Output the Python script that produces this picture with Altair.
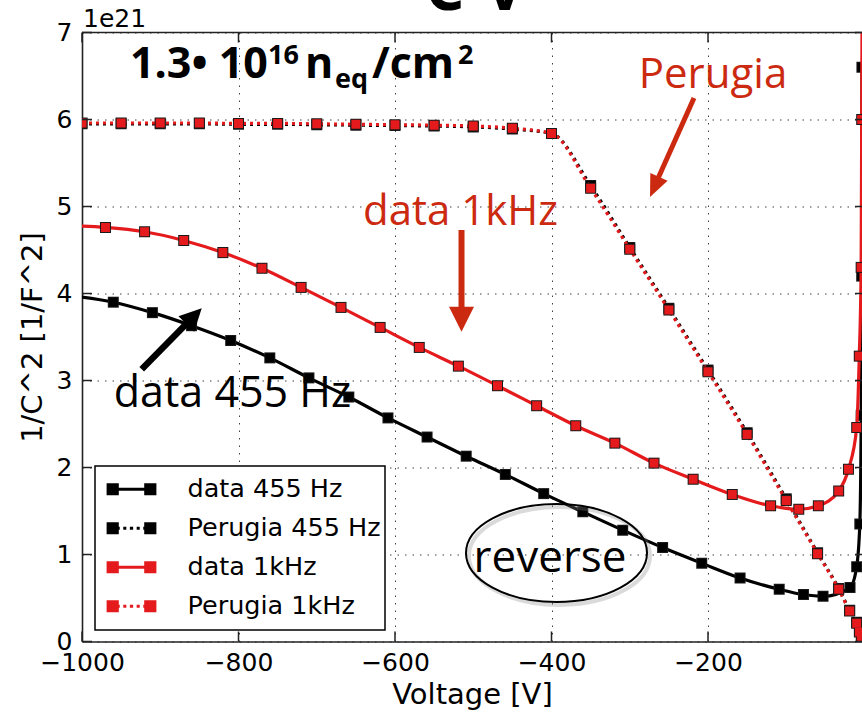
import altair as alt
import pandas as pd

# ---------------- data: 1/C^2 in units of 1e21 F^-2 ----------------
V_DATA_455 = [-1010, -960, -910, -860, -810, -760, -710, -659, -609, -559, -509, -459,
              -410, -360, -309, -258, -208, -159, -109, -78, -53, -18.5, -10, -6, -4.2, -3.6, -3.3]
C_DATA_455 = [3.97, 3.90, 3.78, 3.63, 3.46, 3.26, 3.03, 2.81, 2.57, 2.35, 2.13, 1.92,
              1.70, 1.49, 1.28, 1.08, 0.90, 0.73, 0.60, 0.54, 0.52, 0.62, 0.86, 1.35, 2.6, 4.2, 6.6]
V_DATA_1K = [-1020, -970, -920, -870, -820, -770, -720, -669, -619, -569, -519, -469,
             -419, -369, -319, -269, -219, -169, -120, -84, -59, -33, -20.5, -10, -6.7, -4.3, -3.6, -3.0]
C_DATA_1K = [4.78, 4.76, 4.71, 4.61, 4.47, 4.29, 4.07, 3.84, 3.61, 3.38, 3.165, 2.94,
             2.71, 2.48, 2.28, 2.05, 1.865, 1.69, 1.56, 1.52, 1.56, 1.73, 1.98, 2.46, 3.28, 4.3, 6.0, 7.5]
V_PERUGIA = [-1000, -950, -900, -850, -800, -750, -700, -650, -600, -550, -500, -450,
             -400, -350, -300, -250, -200, -150, -100, -60, -33, -19, -10, -6.5, -4]
C_PERUGIA_455 = [5.95, 5.95, 5.95, 5.95, 5.945, 5.945, 5.94, 5.935, 5.93, 5.925, 5.915, 5.89,
                 5.84, 5.24, 4.53, 3.83, 3.12, 2.40, 1.64, 1.02, 0.61, 0.36, 0.22, 0.12, 0.05]
C_PERUGIA_1K = [5.96, 5.96, 5.96, 5.96, 5.955, 5.955, 5.95, 5.945, 5.94, 5.935, 5.925, 5.90,
                5.84, 5.21, 4.51, 3.81, 3.10, 2.38, 1.62, 1.01, 0.60, 0.35, 0.21, 0.11, 0.04]

SERIES = ["data 455 Hz", "Perugia 455 Hz", "data 1kHz", "Perugia 1kHz"]
X_TICKS = [-1000, -800, -600, -400, -200]
Y_TICKS = [0, 1, 2, 3, 4, 5, 6, 7]

# ---------------- styles ----------------
RED = "#e41a1c"
ANNOT_RED = "#cc2a10"
SERIES_COLORS = ["#000000", "#000000", RED, RED]
SERIES_DOTTED = [False, True, False, True]
DOT_DASH = [3, 4]
SOLID_SYMBOL = "M-1,0L1,0M-1,-0.2L-0.6,-0.2L-0.6,0.2L-1,0.2ZM0.6,-0.2L1,-0.2L1,0.2L0.6,0.2Z"
DOTTED_SYMBOL = ("M-0.6,0L-0.5,0M-0.35,0L-0.22,0M-0.07,0L0.07,0M0.22,0L0.35,0M0.5,0L0.6,0"
                 "M-1,-0.2L-0.6,-0.2L-0.6,0.2L-1,0.2ZM0.6,-0.2L1,-0.2L1,0.2L0.6,0.2Z")
SERIES_SYMBOLS = [SOLID_SYMBOL, DOTTED_SYMBOL, SOLID_SYMBOL, DOTTED_SYMBOL]
AXIS_FONT = "DejaVu Sans"
NOTE_FONT = "Open Sans"
W, H = 780, 609

XS = alt.Scale(domain=[-1000, -3.2], nice=False, zero=False)
YS = alt.Scale(domain=[0, 7], nice=False, zero=False)
COL = alt.Scale(domain=SERIES, range=SERIES_COLORS)
SHP = alt.Scale(domain=SERIES, range=SERIES_SYMBOLS)

LEG = alt.Legend(title=None, orient="none", legendX=13, legendY=433.5,
                 symbolSize=2209, symbolStrokeWidth=2.8, symbolFillColor="black",
                 symbolStrokeColor="black", symbolOpacity=1,
                 symbolOffset=7.5, labelOffset=31, clipHeight=38.5, rowPadding=0,
                 padding=4, labelFont=AXIS_FONT, labelFontSize=25.5, labelColor="black",
                 labelLimit=400, labelExpr="datum.label + '\u2002'",
                 strokeColor="black", fillColor="white", cornerRadius=0)

XAX = alt.Axis(values=X_TICKS, title="Voltage [V]", format="d", labelPadding=9,
               titlePadding=5, labelFlush=False, grid=True)
YAX = alt.Axis(values=Y_TICKS, title="1/C^2 [1/F^2]", format="d", labelPadding=10,
               titlePadding=9, labelFlush=False, grid=True)

rows = []
for name, vs, cs in [(SERIES[0], V_DATA_455, C_DATA_455),
                     (SERIES[1], V_PERUGIA, C_PERUGIA_455),
                     (SERIES[2], V_DATA_1K, C_DATA_1K),
                     (SERIES[3], V_PERUGIA, C_PERUGIA_1K)]:
    for v, c in zip(vs, cs):
        rows.append({"series": name, "V": v, "C": c})
df = pd.DataFrame(rows)


def X(field="V"):
    return alt.X(f"{field}:Q", scale=XS, axis=XAX)


def Y(field="C"):
    return alt.Y(f"{field}:Q", scale=YS, axis=YAX)


layers = []
base = alt.Chart(df)
for name, colr, dotted in zip(SERIES, SERIES_COLORS, SERIES_DOTTED):
    sub = base.transform_filter(alt.datum.series == name)
    line_kw = dict(interpolate="monotone", strokeWidth=3.2, clip=True, color=colr)
    if dotted:
        line_kw["strokeDash"] = DOT_DASH
    layers.append(sub.mark_line(**line_kw).encode(x=X(), y=Y()))
    layers.append(sub.mark_square(size=121, color="#1a1a1a", opacity=1, clip=True).encode(
        x=X(), y=Y()))
    layers.append(sub.mark_square(size=81, color=colr, opacity=1, clip=True).encode(
        x=X(), y=Y()))

# legend-only layer: same points shifted far outside the plot (clipped away)
layers.append(base.transform_calculate(off="datum.V - 5000").mark_point(
    filled=True, opacity=1, clip=True, strokeWidth=2.8).encode(
    x=X("off"), y=Y(),
    shape=alt.Shape("series:N", scale=SHP, legend=LEG),
    fill=alt.Fill("series:N", scale=COL, legend=LEG),
    stroke=alt.Stroke("series:N", scale=COL, legend=LEG)))

# inward ticks and top frame
xt = alt.Chart(pd.DataFrame({"V": X_TICKS}))
yt = alt.Chart(pd.DataFrame({"C": Y_TICKS}))
one = pd.DataFrame({"a": [0]})
for y0, y1 in [(H, H - 10), (0, 10)]:
    layers.append(xt.mark_rule(color="#222", strokeWidth=1.5).encode(
        x=X(), y=alt.value(y0), y2=alt.value(y1)))
for x0, x1 in [(0, 10), (783, 773)]:
    layers.append(yt.mark_rule(color="#222", strokeWidth=1.5).encode(
        y=Y(), x=alt.value(x0), x2=alt.value(x1)))
layers.append(alt.Chart(one).mark_rule(color="#222", strokeWidth=1.6).encode(
    x=alt.value(0), x2=alt.value(800), y=alt.value(0)))


def pos(v, c):
    return alt.Chart(pd.DataFrame({"V": [v], "C": [c]}))


def note(v, c, txt, size, color="black", weight="normal", align="center", font=NOTE_FONT):
    return pos(v, c).mark_text(text=txt, font=font, fontSize=size, fontWeight=weight,
                               color=color, align=align, baseline="alphabetic").encode(
        x=X(), y=Y())


def arrow(v0, c0, v1, c1, vt, ct, color, width, angle, size, path):
    shaft = alt.Chart(pd.DataFrame({"V": [v0], "C": [c0], "V2": [v1], "C2": [c1]})).mark_rule(
        color=color, strokeWidth=width).encode(x=X(), y=Y(), x2="V2:Q", y2="C2:Q")
    head = pos(vt, ct).mark_point(shape=path, size=size, filled=True, color=color,
                                  opacity=1, angle=angle).encode(x=X(), y=Y())
    return [shaft, head]


HEAD_NARROW = "M0,0L-0.86,2L0.86,2Z"
HEAD_WIDE = "M0,0L-1,2L1,2Z"
ELLIPSE = ("M1,0C1,0.299,0.552,0.541,0,0.541C-0.552,0.541,-1,0.299,-1,0"
           "C-1,-0.299,-0.552,-0.541,0,-0.541C0.552,-0.541,1,-0.299,1,0Z")

# fluence label
layers += [
    note(-938.7, 6.477, "1.3\u2022 10", 43, weight="bold", align="left"),
    note(-762.3, 6.638, "16", 27, weight="bold", align="left"),
    note(-715.0, 6.477, "n", 43, weight="bold", align="left"),
    note(-676.7, 6.362, "eq", 27, weight="bold", align="left"),
    note(-629.4, 6.477, "/cm", 43, weight="bold", align="left"),
    note(-519.5, 6.638, "2", 27, weight="bold", align="left"),
]
# red / black labels with arrows
layers.append(note(-193.6, 6.362, "Perugia", 42, color=ANNOT_RED))
layers += arrow(-217.9, 6.247, -266.5, 5.270, -274.1, 5.109, ANNOT_RED, 5, 204, 484, HEAD_NARROW)
layers.append(note(-516.3, 4.783, "data 1kHz", 42, color=ANNOT_RED))
layers += arrow(-515.0, 4.730, -515.0, 3.810, -515.0, 3.561, ANNOT_RED, 6, 180, 625, HEAD_WIDE)
layers.append(note(-807.7, 2.695, "data 455 Hz", 43))
layers += arrow(-923.7, 3.129, -863.1, 3.683, -847.0, 3.830, "black", 6.5, 44.5, 484, HEAD_WIDE)
# "reverse" ellipse
layers.append(pos(-389.8, 0.983).mark_point(shape=ELLIPSE, size=32761, filled=False, color="#888",
                                            strokeWidth=4, opacity=0.3).encode(x=X(), y=Y()))
layers.append(pos(-393.6, 1.017).mark_point(shape=ELLIPSE, size=32761, filled=False, color="black",
                                            strokeWidth=2, opacity=1).encode(x=X(), y=Y()))
layers.append(note(-401.9, 0.802, "reverse", 44))
# offset label and the cut-off page title
layers.append(alt.Chart(one).mark_text(text="1e21", font=AXIS_FONT, fontSize=25, align="left",
                                       baseline="alphabetic", color="black").encode(
    x=alt.value(1), y=alt.value(-5.5)))
layers.append(alt.Chart(one).mark_text(text="C-V", font=NOTE_FONT, fontSize=62, fontWeight="bold",
                                       align="left", baseline="alphabetic", color="black").encode(
    x=alt.value(343), y=alt.value(-22.5)))

chart = alt.layer(*layers).properties(
    width=W, height=H,
    autosize=alt.AutoSizeParams(type="none"),
    padding={"left": 82, "top": 32.5, "right": 0, "bottom": 73.5},
).configure_view(stroke=None).configure_axis(
    labelFont=AXIS_FONT, labelFontSize=25, labelColor="black",
    titleFont=AXIS_FONT, titleFontSize=29, titleFontWeight="normal", titleColor="black",
    domainColor="#222", domainWidth=1.6, tickSize=0,
    gridColor="black", gridDash=[1.5, 6], gridWidth=1, gridOpacity=0.75,
).configure_legend(strokeWidth=1.5)

chart.save("out.html", embed_options={"renderer": "svg", "actions": False})
